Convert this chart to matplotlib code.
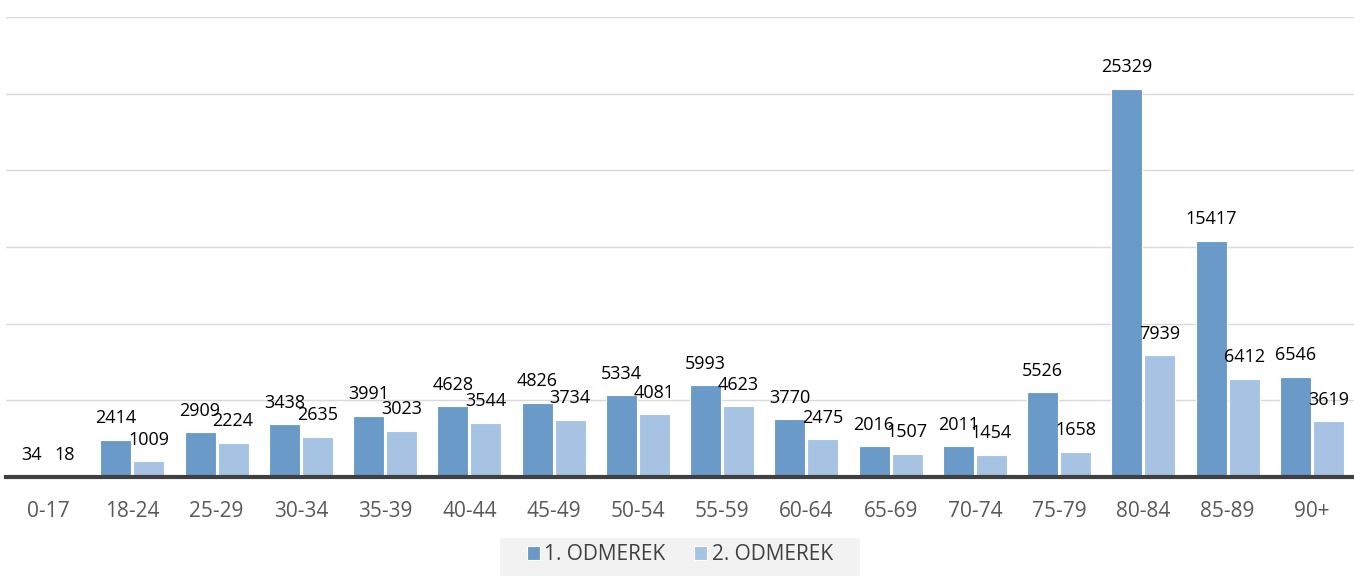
import matplotlib.pyplot as plt
from matplotlib.patches import Rectangle
import numpy as np

categories = ["0-17", "18-24", "25-29", "30-34", "35-39", "40-44", "45-49", "50-54",
              "55-59", "60-64", "65-69", "70-74", "75-79", "80-84", "85-89", "90+"]
odmerek_1 = [34, 2414, 2909, 3438, 3991, 4628, 4826, 5334,
             5993, 3770, 2016, 2011, 5526, 25329, 15417, 6546]
odmerek_2 = [18, 1009, 2224, 2635, 3023, 3544, 3734, 4081,
             4623, 2475, 1507, 1454, 1658, 7939, 6412, 3619]

plt.rcParams['font.family'] = ['Open Sans', 'DejaVu Sans']

fig = plt.figure(figsize=(13.54, 5.76), dpi=100)
ax = fig.add_axes([0.0044, 0.172, 0.9956, 0.798])

x = np.arange(len(categories))
w = 0.368
c1 = '#6a9bc8'
c2 = '#a7c3e4'
b1 = ax.bar(x - w / 2 - 0.012, odmerek_1, w, color=c1, edgecolor='white', linewidth=0.8,
            label='1. ODMEREK', zorder=3)
b2 = ax.bar(x + w / 2 + 0.012, odmerek_2, w, color=c2, edgecolor='white', linewidth=0.8,
            label='2. ODMEREK', zorder=3)

for bars, vals in ((b1, odmerek_1), (b2, odmerek_2)):
    for rect, v in zip(bars, vals):
        ax.annotate(str(v), (rect.get_x() + rect.get_width() / 2, v),
                    xytext=(0, 9), textcoords='offset points',
                    ha='center', va='bottom', fontsize=13, color='black', zorder=4)

ax.set_xlim(-0.5, len(categories) - 0.5)
ax.set_ylim(0, 30000)
ax.set_yticks(np.arange(0, 30001, 5000))
ax.yaxis.grid(True, color='#d9d9d9', linewidth=1)
ax.set_axisbelow(True)
ax.tick_params(axis='y', left=False, labelleft=False)
ax.tick_params(axis='x', bottom=False, pad=14)
ax.set_xticks(x)
ax.set_xticklabels(categories, fontsize=15, color='#595959')
for s in ('top', 'right', 'left'):
    ax.spines[s].set_visible(False)
ax.spines['bottom'].set_color('#404040')
ax.spines['bottom'].set_linewidth(3)
ax.spines['bottom'].set_zorder(5)

# grey legend strip
fig.patches.append(Rectangle((500 / 1354, 0), 360 / 1354, 38 / 576,
                             transform=fig.transFigure, facecolor='#f2f2f2',
                             edgecolor='none', zorder=0))
leg = fig.legend(loc='center', bbox_to_anchor=(0.502, 1 - 555 / 576), ncol=2,
                 frameon=False, fontsize=15, handlelength=0.63, handleheight=0.63,
                 handletextpad=0.2, columnspacing=1.4)
for t in leg.get_texts():
    t.set_color('#404040')

fig.savefig('out.png', dpi=100)
